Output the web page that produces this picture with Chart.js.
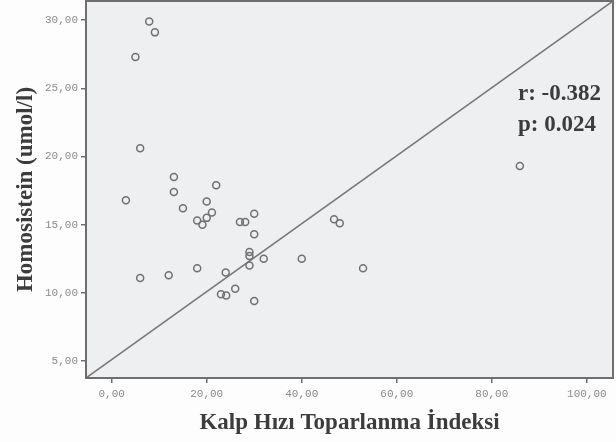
<!DOCTYPE html>
<html>
<head>
<meta charset="utf-8">
<script src="https://cdn.jsdelivr.net/npm/chart.js@4.4.1/dist/chart.umd.min.js"></script>
<style>
  body { margin: 0; background: #fdfdfd; }
  #wrap { width: 616px; height: 442px; }
</style>
</head>
<body>
<div id="wrap"><canvas id="chart" width="616" height="442"></canvas></div>
<script>
// Kalp Hızı Toparlanma İndeksi (x) vs Homosistein (y)
const hriValues = [7.9, 9.1, 5.0, 6.0, 13.1, 13.1, 3.0, 22.0, 15.0, 20.0, 21.1, 18.0,
    20.0, 19.1, 27.0, 28.1, 30.0, 30.0, 6.0, 12.0, 18.0, 24.0, 23.0, 24.1, 26.0,
    30.0, 29.0, 29.0, 29.0, 32.0, 40.0, 46.8, 48.0, 52.9, 85.9];
const homosisteinValues = [29.9, 29.1, 27.3, 20.6, 18.5, 17.4, 16.8, 17.9, 16.2, 16.7, 15.9, 15.3,
    15.5, 15.0, 15.2, 15.2, 15.8, 14.3, 11.1, 11.3, 11.8, 11.5, 9.9, 9.8, 10.3,
    9.4, 12.0, 13.0, 12.7, 12.5, 12.5, 15.4, 15.1, 11.8, 19.3];
const xTicks = [0, 20, 40, 60, 80, 100];
const yTicks = [5, 10, 15, 20, 25, 30];
const xRange = [-5.4, 105.5];
const yRange = [3.76, 31.4];
const statLines = ['r: -0.382', 'p: 0.024'];

const points = hriValues.map((x, i) => ({ x: x, y: homosisteinValues[i] }));
// diagonal reference line, corner to corner of the axes
const refLine = [{ x: xRange[0], y: yRange[0] }, { x: xRange[1], y: yRange[1] }];

const fmt = v => v.toFixed(2).replace('.', ',');
const tickFont = { family: 'Liberation Mono', size: 11 };
const titleFont = { family: 'Liberation Serif', size: 23, weight: 'bold' };

const plotFrame = {
    id: 'plotFrame',
    beforeDatasetsDraw(chart) {
        const { ctx, chartArea: a } = chart;
        ctx.save();
        ctx.fillStyle = '#eeeff0';
        ctx.fillRect(a.left, a.top, a.right - a.left, a.bottom - a.top);
        ctx.restore();
    },
    afterDraw(chart) {
        const { ctx, chartArea: a } = chart;
        ctx.save();
        ctx.strokeStyle = '#6e6e6e';
        ctx.lineWidth = 2;
        ctx.strokeRect(a.left, a.top, a.right - a.left, a.bottom - a.top);
        ctx.fillStyle = '#3c3c3c';
        ctx.font = 'bold 23px "Liberation Serif"';
        ctx.textAlign = 'left';
        ctx.textBaseline = 'alphabetic';
        ctx.fillText(statLines[0], a.right - 95, a.top + 99);
        ctx.fillText(statLines[1], a.right - 95, a.top + 130);
        ctx.restore();
    }
};

new Chart(document.getElementById('chart'), {
    type: 'scatter',
    data: {
        datasets: [{
            data: points,
            pointStyle: 'circle',
            pointRadius: 3.5,
            pointHoverRadius: 3.5,
            borderColor: '#707070',
            borderWidth: 1.5,
            backgroundColor: 'rgba(0,0,0,0)'
        }, {
            type: 'line',
            data: refLine,
            borderColor: '#777777',
            borderWidth: 1.5,
            pointRadius: 0,
            fill: false
        }]
    },
    options: {
        responsive: false,
        animation: false,
        layout: { autoPadding: false, padding: { top: 1, right: 3, left: 0, bottom: 0 } },
        plugins: { legend: { display: false }, tooltip: { enabled: false } },
        scales: {
            x: {
                type: 'linear',
                min: xRange[0],
                max: xRange[1],
                afterBuildTicks: s => { s.ticks = xTicks.map(v => ({ value: v })); },
                afterFit: s => { s.height = 64; s.paddingLeft = 0; s.paddingRight = 0; },
                grid: { drawOnChartArea: false, tickLength: 5, color: '#6e6e6e', lineWidth: 1.5 },
                border: { display: false },
                ticks: { font: tickFont, color: '#8a8a8a', padding: 4, maxRotation: 0, callback: v => fmt(v) },
                title: {
                    display: true,
                    text: 'Kalp Hızı Toparlanma İndeksi',
                    font: titleFont,
                    color: '#3c3c3c',
                    padding: { top: 0, bottom: 5 }
                }
            },
            y: {
                type: 'linear',
                min: yRange[0],
                max: yRange[1],
                afterBuildTicks: s => { s.ticks = yTicks.map(v => ({ value: v })); },
                afterFit: s => { s.width = 86; s.paddingTop = 0; s.paddingBottom = 0; },
                grid: { drawOnChartArea: false, tickLength: 5, color: '#6e6e6e', lineWidth: 1.5 },
                border: { display: false },
                ticks: { font: tickFont, color: '#8a8a8a', padding: 3, callback: v => fmt(v) },
                title: {
                    display: true,
                    text: 'Homosistein (umol/l)',
                    font: titleFont,
                    color: '#3c3c3c',
                    padding: { top: 12, bottom: 0 }
                }
            }
        }
    },
    plugins: [plotFrame]
});
</script>
</body>
</html>
